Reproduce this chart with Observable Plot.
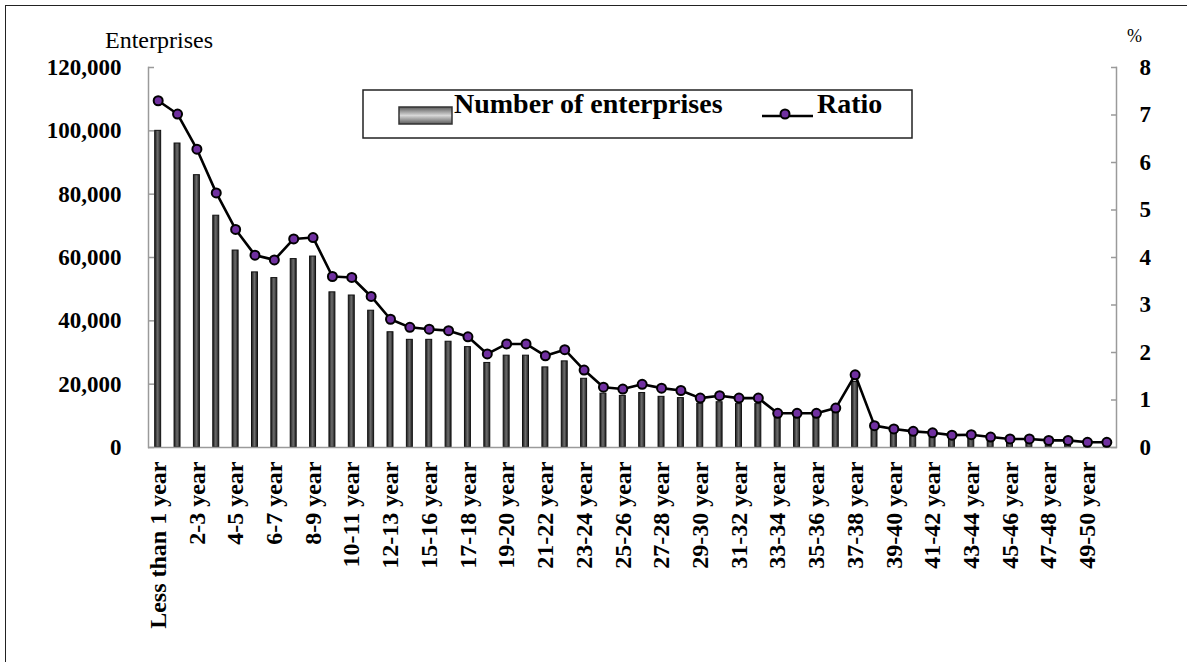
<!DOCTYPE html>
<html><head><meta charset="utf-8">
<script src="https://cdn.jsdelivr.net/npm/d3@7"></script>
<script src="https://cdn.jsdelivr.net/npm/@observablehq/plot@0.6"></script>
<style>
html,body{margin:0;padding:0;background:#fff;}
#wrap{position:relative;width:1187px;height:662px;overflow:hidden;background:#fff;}
#wrap svg{position:absolute;left:0;top:0;}
#border{position:absolute;left:5px;top:5px;width:1190px;height:670px;border-left:1.5px solid #222;border-top:1.5px solid #222;}
</style></head><body><div id="wrap"><div id="border"></div></div>
<script>
const categories = ["Less than 1 year","1-2 year","2-3 year","3-4 year","4-5 year","5-6 year","6-7 year","7-8 year","8-9 year","9-10 year",
  "10-11 year","11-12 year","12-13 year","13-15 year","15-16 year","16-17 year","17-18 year","18-19 year","19-20 year","20-21 year",
  "21-22 year","22-23 year","23-24 year","24-25 year","25-26 year","26-27 year","27-28 year","28-29 year","29-30 year","30-31 year",
  "31-32 year","32-33 year","33-34 year","34-35 year","35-36 year","36-37 year","37-38 year","38-39 year","39-40 year","40-41 year",
  "41-42 year","42-43 year","43-44 year","44-45 year","45-46 year","46-47 year","47-48 year","48-49 year","49-50 year","Over 50 year"];
const enterprises = [100000,96000,86000,73200,62200,55300,53500,59500,60300,49000,
  48000,43200,36400,34000,34000,33400,31700,26700,29000,29000,
  25300,27200,21700,17000,16300,17200,16000,15600,13800,14300,
  13700,13700,9600,9600,9600,10900,20700,5800,5200,4600,
  4200,3500,3600,3000,2500,2400,2000,2000,1500,1500];
const ratio = [7.30,7.02,6.28,5.36,4.59,4.05,3.95,4.39,4.42,3.60,
  3.58,3.18,2.70,2.53,2.49,2.46,2.33,1.97,2.18,2.18,
  1.93,2.06,1.63,1.27,1.23,1.33,1.25,1.20,1.04,1.09,
  1.04,1.04,0.72,0.72,0.72,0.83,1.53,0.46,0.39,0.34,
  0.31,0.26,0.27,0.22,0.18,0.18,0.15,0.15,0.11,0.11];
const leftTicks = [0,20000,40000,60000,80000,100000,120000];
const rightTicks = [0,1,2,3,4,5,6,7,8];
const leftTitle = "Enterprises";
const rightTitle = "%";
const legendBar = "Number of enterprises";
const legendLine = "Ratio";

const K = 120000 / 8; // right-axis scale factor
const data = categories.map((c, i) => ({c, n: enterprises[i], r: ratio[i] * K}));
const font = "'Liberation Serif','Times New Roman',serif";

const plot = Plot.plot({
  width: 1187, height: 662,
  marginLeft: 148, marginRight: 71, marginTop: 67, marginBottom: 215,
  style: {fontFamily: font, background: "transparent", color: "#000"},
  x: {type: "band", domain: categories, padding: 0, round: false},
  y: {domain: [0, 120000]},
  marks: [
    Plot.barY(data, {x: "c", y: "n", fill: "url(#barGrad)", stroke: "#111", strokeWidth: 1, insetLeft: 6.7, insetRight: 6.7}),
    Plot.ruleY([0], {stroke: "#9a9a9a", strokeWidth: 1.5}),
    Plot.frame({anchor: "left", stroke: "#9a9a9a", strokeWidth: 1.5}),
    Plot.frame({anchor: "right", stroke: "#9a9a9a", strokeWidth: 1.5}),
    Plot.axisY({ticks: leftTicks, tickSize: 0, tickPadding: 27, tickFormat: d3.format(","), fontSize: 23, fontWeight: "bold", label: null}),
    Plot.axisY({ticks: leftTicks, tickSize: -6, text: null, stroke: "#9a9a9a", strokeWidth: 1.5, label: null}),
    Plot.axisY({anchor: "right", ticks: rightTicks.map(v => v * K), tickSize: 0, tickPadding: 23, tickFormat: d => d3.format("d")(d / K), fontSize: 23, fontWeight: "bold", label: null}),
    Plot.axisY({anchor: "right", ticks: rightTicks.map(v => v * K), tickSize: -6, text: null, stroke: "#9a9a9a", strokeWidth: 1.5, label: null}),
    Plot.axisX({tickRotate: -90, tickSize: 0, tickPadding: 14, fontSize: 24, fontWeight: "bold", label: null,
      tickFormat: d => categories.indexOf(d) % 2 === 0 ? d : ""}),
    Plot.lineY(data, {x: "c", y: "r", stroke: "#000", strokeWidth: 2.6}),
    Plot.dot(data, {x: "c", y: "r", r: 4.5, fill: "#7030a0", stroke: "#000", strokeWidth: 2})
  ]
});

d3.select(plot).insert("defs", ":first-child").html(
  `<linearGradient id="barGrad" x1="0" x2="1" y1="0" y2="0">
     <stop offset="0" stop-color="#1c1c1c"/><stop offset="0.5" stop-color="#6e6e6e"/><stop offset="1" stop-color="#1c1c1c"/>
   </linearGradient>
   <linearGradient id="legGrad" x1="0" x2="0" y1="0" y2="1">
     <stop offset="0" stop-color="#5a5a5a"/><stop offset="0.5" stop-color="#d8d8d8"/><stop offset="1" stop-color="#5a5a5a"/>
   </linearGradient>`);

// axis titles
const g = d3.select(plot).append("g").attr("font-family", font).attr("text-anchor", "start");
g.append("text").attr("x", 105).attr("y", 48).attr("font-size", 24).text(leftTitle);
g.append("text").attr("x", 1127).attr("y", 42).attr("font-size", 18).text(rightTitle);

// legend box
const lg = d3.select(plot).append("g").attr("font-family", font).attr("text-anchor", "start");
lg.append("rect").attr("x", 363).attr("y", 90).attr("width", 549).attr("height", 48).attr("fill", "#fff").attr("stroke", "#222").attr("stroke-width", 1.5);
lg.append("rect").attr("x", 399).attr("y", 107).attr("width", 53).attr("height", 17).attr("fill", "url(#legGrad)").attr("stroke", "#333").attr("stroke-width", 1.5);
lg.append("text").attr("x", 454).attr("y", 113).attr("font-size", 28).attr("font-weight", "bold").text(legendBar);
lg.append("line").attr("x1", 762).attr("x2", 813).attr("y1", 116).attr("y2", 116).attr("stroke", "#000").attr("stroke-width", 2.6);
lg.append("circle").attr("cx", 785).attr("cy", 114).attr("r", 4.5).attr("fill", "#7030a0").attr("stroke", "#000").attr("stroke-width", 2);
lg.append("text").attr("x", 817).attr("y", 113).attr("font-size", 28).attr("font-weight", "bold").text(legendLine);

document.getElementById("wrap").appendChild(plot);
</script></body></html>
